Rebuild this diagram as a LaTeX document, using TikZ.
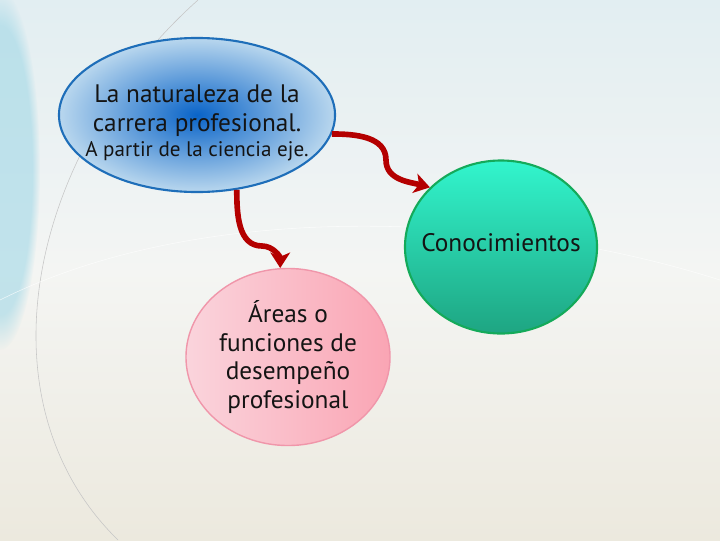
\documentclass[tikz,border=0pt]{standalone}
\usepackage{fontspec}
\setmainfont{PT Sans}
\usepackage{tikz}
\usetikzlibrary{shapes.geometric,fadings,arrows.meta}

\definecolor{bluecore}{RGB}{10,100,200}
\definecolor{blueedge}{RGB}{185,215,238}
\definecolor{blueline}{RGB}{30,110,185}
\definecolor{greentop}{RGB}{50,245,205}
\definecolor{greenbottom}{RGB}{30,165,130}
\definecolor{greenline}{RGB}{20,170,90}
\definecolor{pinkleft}{RGB}{250,212,220}
\definecolor{pinkright}{RGB}{250,165,180}
\definecolor{pinkline}{RGB}{240,150,170}
\definecolor{arrowred}{RGB}{180,0,0}
\definecolor{textdark}{RGB}{20,20,20}
\definecolor{bgtop}{RGB}{226,238,242}
\definecolor{bgmid}{RGB}{244,245,243}
\definecolor{bgbottom}{RGB}{236,233,222}
\definecolor{leftblue}{RGB}{160,215,230}

\begin{document}
\begin{tikzpicture}[x=0.025cm,y=-0.025cm]
\tikzstyle{bubble}=[ellipse,line width=1.5pt,inner sep=-20pt,align=center,text=textdark,
  font=\fontsize{18}{20.5}\selectfont]
\tikzstyle{link}=[line width=4pt,color=arrowred,-{Stealth[length=11pt,width=14pt,inset=3pt]}]
\useasboundingbox (0,0) rectangle (720,540);

% background
\shade[top color=bgtop,bottom color=bgmid] (0,0) rectangle (720,270);
\shade[top color=bgmid,bottom color=bgbottom] (0,270) rectangle (720,540);
\fill[leftblue,opacity=0.6,path fading=circle with fuzzy edge 20 percent] (0,170) ellipse [x radius=40,y radius=180];
\draw[gray!45] (198,0) .. controls (30,150) and (-25,400) .. (118,540);
\draw[white,opacity=0.7] (0,300) .. controls (200,200) and (500,210) .. (720,280);

\begin{scope}
\node[bubble,draw=blueline,shade,inner color=bluecore,outer color=blueedge,
  minimum width=6.9cm,minimum height=3.85cm] (A) at (197,115)
  {\rule{0pt}{24pt}La naturaleza de la\\
   carrera profesional.\\[-3pt]
   {\fontsize{15}{17}\selectfont A partir de la ciencia eje.}};
\node[bubble,draw=greenline,shade,top color=greentop,bottom color=greenbottom,
  minimum width=4.8cm,minimum height=4.325cm] (B) at (501,247)
  {\rule[-7pt]{0pt}{1pt}Conocimientos};
\node[bubble,draw=pinkline,line width=1pt,shade,left color=pinkleft,right color=pinkright,
  minimum width=5.1cm,minimum height=4.425cm] (C) at (288,357)
  {\'Areas o\\ funciones de\\ desempe\~no\\ profesional};

\coordinate (k1) at (386,160);
\coordinate (k2) at (262,246);

\draw[link] (A.-8) to[out=0,in=90] (k1) to[out=-90,in=165] (B.140);
\draw[link] (A.-62) to[out=-90,in=180] (k2) to[out=0,in=90] (C.95);
\end{scope}
\end{tikzpicture}
\end{document}
